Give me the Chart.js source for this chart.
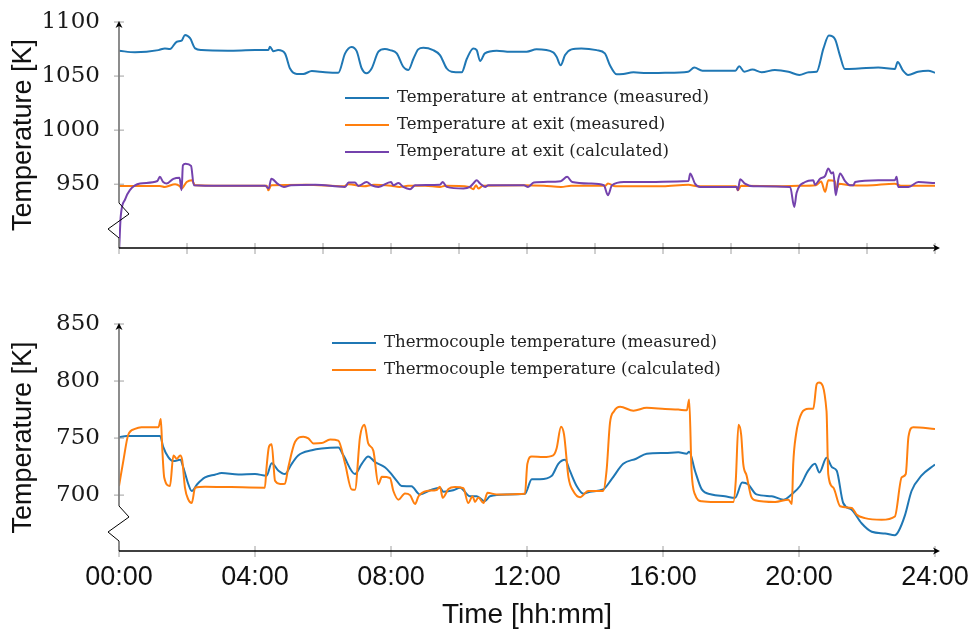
<!DOCTYPE html>
<html>
<head>
<meta charset="utf-8">
<script src="https://cdn.jsdelivr.net/npm/chart.js@4.4.1/dist/chart.umd.min.js"></script>
<style>
  body { margin: 0; background: #fff; }
  #wrap { position: relative; width: 971px; height: 634px; }
  canvas { position: absolute; left: 0; }
</style>
</head>
<body>
<div id="wrap">
  <canvas id="topChart" width="971" height="270" style="top:0"></canvas>
  <canvas id="bottomChart" width="971" height="344" style="top:290px"></canvas>
</div>
<script>
// time in hours, temperatures in K
const entranceTime = [
  0, 0.47, 1.16, 1.35, 1.5, 1.7, 1.84, 1.94, 2.09, 2.24,
  2.43, 3.2, 4.0, 4.39, 4.44, 4.54, 4.68, 4.88, 5.03, 5.23,
  5.42, 5.67, 6.06, 6.45, 6.65, 6.84, 6.99, 7.14, 7.28, 7.43,
  7.63, 7.82, 7.97, 8.17, 8.36, 8.51, 8.66, 8.8, 8.95, 9.24,
  9.44, 9.64, 9.78, 10.08, 10.23, 10.42, 10.52, 10.62, 10.76, 11.11,
  11.5, 11.99, 12.28, 12.77, 12.87, 12.99, 13.12, 13.31, 13.6, 14.05,
  14.29, 14.44, 14.64, 14.83, 15.13, 15.52, 16.06, 16.74, 16.92, 17.16,
  17.73, 18.13, 18.24, 18.39, 18.63, 18.9, 19.29, 19.69, 20.01, 20.29,
  20.52, 20.72, 20.88, 21.06, 21.2, 21.35, 21.76, 22.33, 22.82, 22.9,
  23.06, 23.21, 23.5, 23.8, 24
];
const entranceTemp = [
  1073.4, 1072, 1074, 1075.6, 1075, 1081.8, 1082.7, 1088, 1085, 1075.6,
  1074, 1073.5, 1074, 1074, 1077, 1073, 1074, 1071, 1057, 1052,
  1052, 1054.6, 1053.5, 1053, 1071, 1076.9, 1073, 1057, 1052.5, 1057,
  1072.5, 1075, 1074, 1071, 1058.6, 1055.6, 1066, 1074.7, 1076.2, 1074,
  1069.4, 1057, 1054, 1053.5, 1066, 1075.6, 1074, 1064, 1071, 1073.5,
  1072.5, 1072.5, 1074.7, 1072, 1067.9, 1060, 1069.4, 1074.7, 1075.6, 1074,
  1071, 1060, 1051.6, 1052, 1053.5, 1052.8, 1053, 1054, 1058, 1055,
  1055, 1055, 1059, 1054, 1056, 1053.5, 1055.6, 1054, 1051, 1053.5,
  1054, 1075.6, 1087.4, 1084, 1069.4, 1056.5, 1057, 1058, 1056.5, 1063,
  1055, 1051, 1054, 1055, 1053
];

const exitMeasTime = [
  0, 1.2, 1.35, 1.65, 1.79, 1.84, 1.99, 2.14, 2.24, 3.5,
  4.35, 4.39, 4.48, 5.5, 6.6, 6.75, 7.2, 7.5, 8.0, 8.25,
  8.5, 9.0, 9.44, 9.6, 10.3, 10.42, 10.5, 10.57, 10.7, 11.9,
  12.5, 13.0, 13.3, 14.3, 14.38, 14.6, 16.0, 16.75, 17.0, 18.15,
  18.2, 18.3, 19.5, 20.0, 20.5, 20.65, 20.77, 20.86, 21.05, 21.1,
  21.18, 21.5, 22.0, 22.82, 23.0, 24
];
const exitMeasTemp = [
  948.4, 948.4, 947.5, 950, 948, 946, 952, 953.7, 949, 948.5,
  948.5, 944.4, 949, 949.5, 948, 950, 948, 949.5, 948.5, 947.5,
  948.5, 948.5, 947.5, 948.5, 947.5, 945.4, 949, 946, 948.5, 949,
  948.5, 947.5, 948.5, 948.5, 950.6, 948, 948.2, 949.5, 948.2, 948,
  944.4, 948.5, 948.2, 948.5, 949, 952.5, 943, 953.7, 953, 945,
  950.5, 949, 948.8, 950.5, 948.5, 948.5
];

const exitCalcTime = [
  0, 0.05, 0.18, 0.32, 0.62, 1.13, 1.2, 1.3, 1.4, 1.6,
  1.78, 1.84, 1.88, 1.96, 2.12, 2.2, 3.0, 4.3, 4.4, 4.48,
  4.68, 4.85, 5.06, 5.77, 6.65, 6.75, 6.94, 7.04, 7.28, 7.43,
  7.63, 8.0, 8.07, 8.22, 8.36, 8.56, 8.71, 9.44, 9.52, 9.64,
  10.13, 10.32, 10.42, 10.52, 10.62, 10.77, 10.86, 11.91, 12.03, 12.2,
  12.99, 13.18, 13.33, 13.87, 14.26, 14.38, 14.5, 14.85, 16.75, 16.8,
  16.94, 17.09, 18.17, 18.2, 18.27, 18.41, 18.66, 19.74, 19.86, 19.93,
  20.18, 20.42, 20.47, 20.62, 20.77, 20.86, 20.96, 21.01, 21.08, 21.16,
  21.21, 21.35, 21.5, 21.6, 21.65, 22.33, 22.82, 22.87, 22.92, 23.22,
  23.51, 24
];
const exitCalcTemp = [
  886, 920, 936, 944.5, 950.6, 953, 956.8, 952, 950.6, 955,
  956, 944.4, 967.6, 969, 967, 949, 948.5, 948.5, 946, 955,
  950, 947.5, 949, 949.5, 947.5, 951.5, 951.5, 948.4, 952, 949,
  947.5, 952, 949, 951, 947.5, 945.4, 949, 949.5, 952, 947.5,
  946, 947.5, 950.6, 953.7, 950.6, 947.5, 949, 949, 947.5, 951.5,
  952.8, 956.8, 952, 950.6, 949, 939.8, 949, 952, 953, 960,
  950.6, 947.5, 947.5, 944.4, 954.6, 950.6, 948, 947.5, 929, 942,
  952, 953.7, 949.5, 955, 957.7, 964.5, 960, 961, 939.8, 955,
  960, 953, 949, 949, 952, 953.7, 953.7, 956.8, 947.5, 947.5,
  952, 951
];

const tcMeasTime = [
  0, 0.23, 1.21, 1.3, 1.45, 1.6, 1.8, 1.89, 2.04, 2.14,
  2.3, 2.53, 2.82, 3.02, 3.51, 4.0, 4.34, 4.49, 4.69, 4.88,
  5.08, 5.27, 5.67, 5.96, 6.45, 6.6, 6.94, 7.14, 7.33, 7.53,
  7.82, 7.97, 8.17, 8.31, 8.6, 8.85, 9.15, 9.44, 9.54, 9.83,
  10.03, 10.32, 10.52, 10.76, 10.91, 11.4, 11.94, 12.14, 12.38, 12.73,
  12.92, 13.12, 13.26, 13.46, 13.66, 13.86, 14.24, 14.49, 14.83, 15.21,
  15.52, 16.06, 16.45, 16.7, 16.77, 16.94, 17.14, 17.43, 17.82, 18.12,
  18.33, 18.5, 18.75, 19.2, 19.54, 19.78, 20.03, 20.27, 20.47, 20.6,
  20.81, 20.97, 21.11, 21.3, 21.55, 21.84, 22.14, 22.53, 22.82, 22.92,
  23.12, 23.31, 23.6, 24
];
const tcMeasTemp = [
  750.6, 751.8, 751.8, 742.3, 733.3, 729.8, 731, 724.4, 709.5, 703.6,
  709.5, 715.5, 717.9, 719.3, 718, 718.5, 717, 728, 721.4, 718.5,
  727.4, 734.8, 739.3, 740.8, 741.7, 734.8, 718.5, 727.4, 733.9, 729,
  724.4, 719.9, 712.5, 708, 707.7, 700.6, 704.2, 706.5, 703, 704.2,
  706.5, 699, 699, 694.6, 699, 700.6, 701.2, 714, 714, 717,
  727.4, 731, 721.4, 708, 701.2, 703, 705, 714, 727.4, 731.9,
  736.3, 736.9, 737.5, 736.3, 738, 721.4, 705, 700.6, 699, 697.6,
  711, 709.5, 700.6, 699, 696, 700.6, 708, 721.4, 727.4, 719.9,
  732.7, 724.4, 721.4, 693.1, 687.2, 675.3, 667.9, 666.4, 664.9, 667.9,
  682.7, 703.6, 717, 726.8
];

const tcCalcTime = [
  0, 0.13, 0.27, 0.47, 0.66, 1.16, 1.23, 1.27, 1.33, 1.5,
  1.6, 1.7, 1.8, 1.86, 1.94, 2.04, 2.14, 2.24, 2.53, 3.3,
  4.29, 4.34, 4.41, 4.49, 4.59, 4.74, 4.88, 4.98, 5.18, 5.42,
  5.57, 5.72, 5.96, 6.21, 6.45, 6.65, 6.84, 6.94, 7.09, 7.22,
  7.33, 7.48, 7.63, 7.73, 7.97, 8.07, 8.22, 8.41, 8.56, 8.71,
  8.81, 9.05, 9.34, 9.44, 9.52, 9.69, 9.88, 10.13, 10.27, 10.4,
  10.47, 10.57, 10.72, 10.84, 11.1, 11.94, 12.01, 12.14, 12.48, 12.77,
  12.87, 13.0, 13.09, 13.22, 13.36, 13.56, 13.8, 14.24, 14.34, 14.44,
  14.56, 14.74, 15.13, 15.52, 16.06, 16.45, 16.7, 16.77, 16.84, 16.94,
  17.14, 17.53, 18.07, 18.14, 18.22, 18.3, 18.36, 18.46, 18.59, 18.71,
  19.3, 19.69, 19.79, 19.83, 19.91, 20.08, 20.28, 20.42, 20.52, 20.59,
  20.81, 20.86, 21.01, 21.21, 21.55, 21.7, 21.94, 22.43, 22.82, 23.02,
  23.14, 23.22, 23.36, 24
];
const tcCalcTemp = [
  708, 730.4, 752.7, 758, 759.5, 759.5, 766.7, 742.3, 715.5, 708,
  734.8, 731.8, 734.8, 730.4, 706.5, 696, 693.1, 706.5, 707.4, 707,
  706.5, 724.4, 742.3, 744.6, 712.5, 709.8, 710, 724.4, 746.7, 751.2,
  749.7, 745.3, 745.6, 748.8, 747.7, 727.4, 705, 704.6, 751.2, 761.6,
  745.3, 739, 709.5, 716, 715, 703.6, 696, 701.5, 700, 692.3,
  699, 703.6, 704.5, 707.4, 697.6, 705.3, 707, 706, 693.1, 699,
  694, 698, 693.1, 702, 700.6, 701.2, 727.4, 733.9, 733.3, 734.8,
  740.8, 760, 753, 715.5, 703.6, 698.2, 703.6, 703.6, 721.4, 763,
  773.5, 777.4, 774, 776.5, 775.5, 775, 774.3, 783.9, 721.4, 700.6,
  694.6, 693.9, 694, 712.5, 761.6, 752.7, 727.4, 717, 699, 695.5,
  694, 696, 692.3, 727.4, 752.7, 772, 775.6, 775.6, 797.3, 798.8,
  773.5, 718.5, 706.5, 690.2, 688.7, 682.7, 679.8, 678.4, 681.3, 715.5,
  718.5, 751.2, 759.5, 758
];

const xTicksTop = [0, 2, 4, 6, 8, 10, 12, 14, 16, 18, 20, 22, 24];
const xTicksBottom = [0, 4, 8, 12, 16, 20, 24];
const xTickLabels = ['00:00', '04:00', '08:00', '12:00', '16:00', '20:00', '24:00'];
const yTicksTop = [950, 1000, 1050, 1100];
const yTicksBottom = [700, 750, 800, 850];

const BLUE = '#1f77b4', ORANGE = '#ff7f0e', PURPLE = '#7442ad';

const toPoints = (t, v) => t.map((h, i) => ({x: h, y: v[i]}));

// axes in pgfplots style: arrows, crossing ticks, broken y axis, legend inside
const axisDecor = {
  id: 'axisDecor',
  afterDraw(chart, args, opts) {
    const {ctx, chartArea: a, scales: {x, y}} = chart;
    const seg = (x1, y1, x2, y2) => { ctx.beginPath(); ctx.moveTo(x1, y1); ctx.lineTo(x2, y2); ctx.stroke(); };
    const x0 = a.left, b = a.bottom;
    ctx.save();

    ctx.strokeStyle = '#a0a0a0';
    ctx.lineWidth = 1;
    opts.yTicks.forEach(v => { const py = y.getPixelForValue(v); seg(x0 - 5, py, x0 + 5, py); });
    opts.xTicks.forEach(v => { const px = x.getPixelForValue(v); seg(px, b - 5, px, b + 6); });

    ctx.strokeStyle = '#808080';
    ctx.lineWidth = 1.8;
    seg(x0, a.top + 3, x0, b - 45);
    seg(x0, b - 10, x0, b);
    ctx.strokeStyle = '#000';
    ctx.lineWidth = 1;
    ctx.beginPath();
    ctx.moveTo(x0, b - 45);
    ctx.lineTo(x0 + 10, b - 34);
    ctx.lineTo(x0 - 11, b - 19);
    ctx.lineTo(x0, b - 10);
    ctx.stroke();

    ctx.lineWidth = 1.3;
    seg(x0, b, a.right + 2, b);

    ctx.fillStyle = '#000';
    ctx.beginPath();
    ctx.moveTo(x0, a.top - 1);
    ctx.lineTo(x0 - 3.5, a.top + 6);
    ctx.lineTo(x0, a.top + 4);
    ctx.lineTo(x0 + 3.5, a.top + 6);
    ctx.closePath();
    ctx.fill();
    ctx.beginPath();
    ctx.moveTo(a.right + 5, b);
    ctx.lineTo(a.right - 2, b - 3.5);
    ctx.lineTo(a.right, b);
    ctx.lineTo(a.right - 2, b + 3.5);
    ctx.closePath();
    ctx.fill();

    ctx.font = '16.6px "DejaVu Serif"';
    ctx.textBaseline = 'middle';
    ctx.textAlign = 'left';
    chart.data.datasets.forEach((ds, i) => {
      const ly = opts.legendY + i * 27;
      ctx.strokeStyle = ds.borderColor;
      ctx.lineWidth = 2;
      seg(opts.legendX, ly, opts.legendX + 44, ly);
      ctx.fillStyle = '#222';
      ctx.fillText(ds.label, opts.legendX + 52, ly);
    });
    ctx.restore();
  }
};

// keep the plot area fixed: no extra room for overflowing labels
const noOverflow = sc => {
  sc.paddingLeft = 0; sc.paddingRight = 0; sc.paddingTop = 0; sc.paddingBottom = 0;
};

function makeChart(id, datasets, s) {
  return new Chart(document.getElementById(id), {
    type: 'line',
    data: {datasets},
    options: {
      responsive: false,
      animation: false,
      events: [],
      layout: {padding: {left: 0, right: 36, top: s.padTop, bottom: 0}},
      elements: {
        point: {radius: 0},
        line: {cubicInterpolationMode: 'monotone', borderWidth: 2, borderJoinStyle: 'round'}
      },
      plugins: {
        legend: {display: false},
        tooltip: {enabled: false},
        axisDecor: {xTicks: s.xTicks, yTicks: s.yTicks, legendX: s.legendX, legendY: s.legendY}
      },
      scales: {
        x: {
          type: 'linear', min: 0, max: 24,
          grid: {display: false, drawTicks: false},
          border: {display: false},
          afterBuildTicks: sc => { sc.ticks = s.xTicks.map(v => ({value: v})); },
          ticks: {
            display: s.xLabels,
            autoSkip: false, maxRotation: 0, padding: 10,
            color: '#111',
            font: {family: 'Liberation Sans', size: 27},
            callback: v => xTickLabels[xTicksBottom.indexOf(v)]
          },
          title: {
            display: s.xLabels, text: 'Time [hh:mm]', color: '#111',
            font: {family: 'Liberation Sans', size: 28},
            padding: {top: 0, bottom: 2}
          },
          afterFit: sc => { sc.height = s.xHeight; noOverflow(sc); }
        },
        y: {
          min: s.yMin, max: s.yMax,
          grid: {display: false, drawTicks: false},
          border: {display: false},
          afterBuildTicks: sc => { sc.ticks = s.yTicks.map(v => ({value: v})); },
          ticks: {
            padding: 19, color: '#1a1a1a',
            font: {family: 'DejaVu Serif', size: 23},
            callback: v => String(v)
          },
          title: {
            display: true, text: 'Temperature [K]', color: '#111',
            font: {family: 'Liberation Sans', size: 27},
            padding: {top: 7, bottom: 0}
          },
          afterFit: sc => { sc.width = 119; noOverflow(sc); }
        }
      }
    },
    plugins: [axisDecor]
  });
}

makeChart('topChart', [
  {label: 'Temperature at entrance (measured)', data: toPoints(entranceTime, entranceTemp), borderColor: BLUE, order: 2},
  {label: 'Temperature at exit (measured)', data: toPoints(exitMeasTime, exitMeasTemp), borderColor: ORANGE, order: 1},
  {label: 'Temperature at exit (calculated)', data: toPoints(exitCalcTime, exitCalcTemp), borderColor: PURPLE, order: 0}
], {padTop: 22, xHeight: 22, xTicks: xTicksTop, xLabels: false, yTicks: yTicksTop, yMin: 891, yMax: 1100, legendX: 345, legendY: 98});

makeChart('bottomChart', [
  {label: 'Thermocouple temperature (measured)', data: toPoints(tcMeasTime, tcMeasTemp), borderColor: BLUE, order: 1},
  {label: 'Thermocouple temperature (calculated)', data: toPoints(tcCalcTime, tcCalcTemp), borderColor: ORANGE, order: 0}
], {padTop: 34, xHeight: 83, xTicks: xTicksBottom, xLabels: true, yTicks: yTicksBottom, yMin: 651, yMax: 850, legendX: 332, legendY: 53});
</script>
</body>
</html>
